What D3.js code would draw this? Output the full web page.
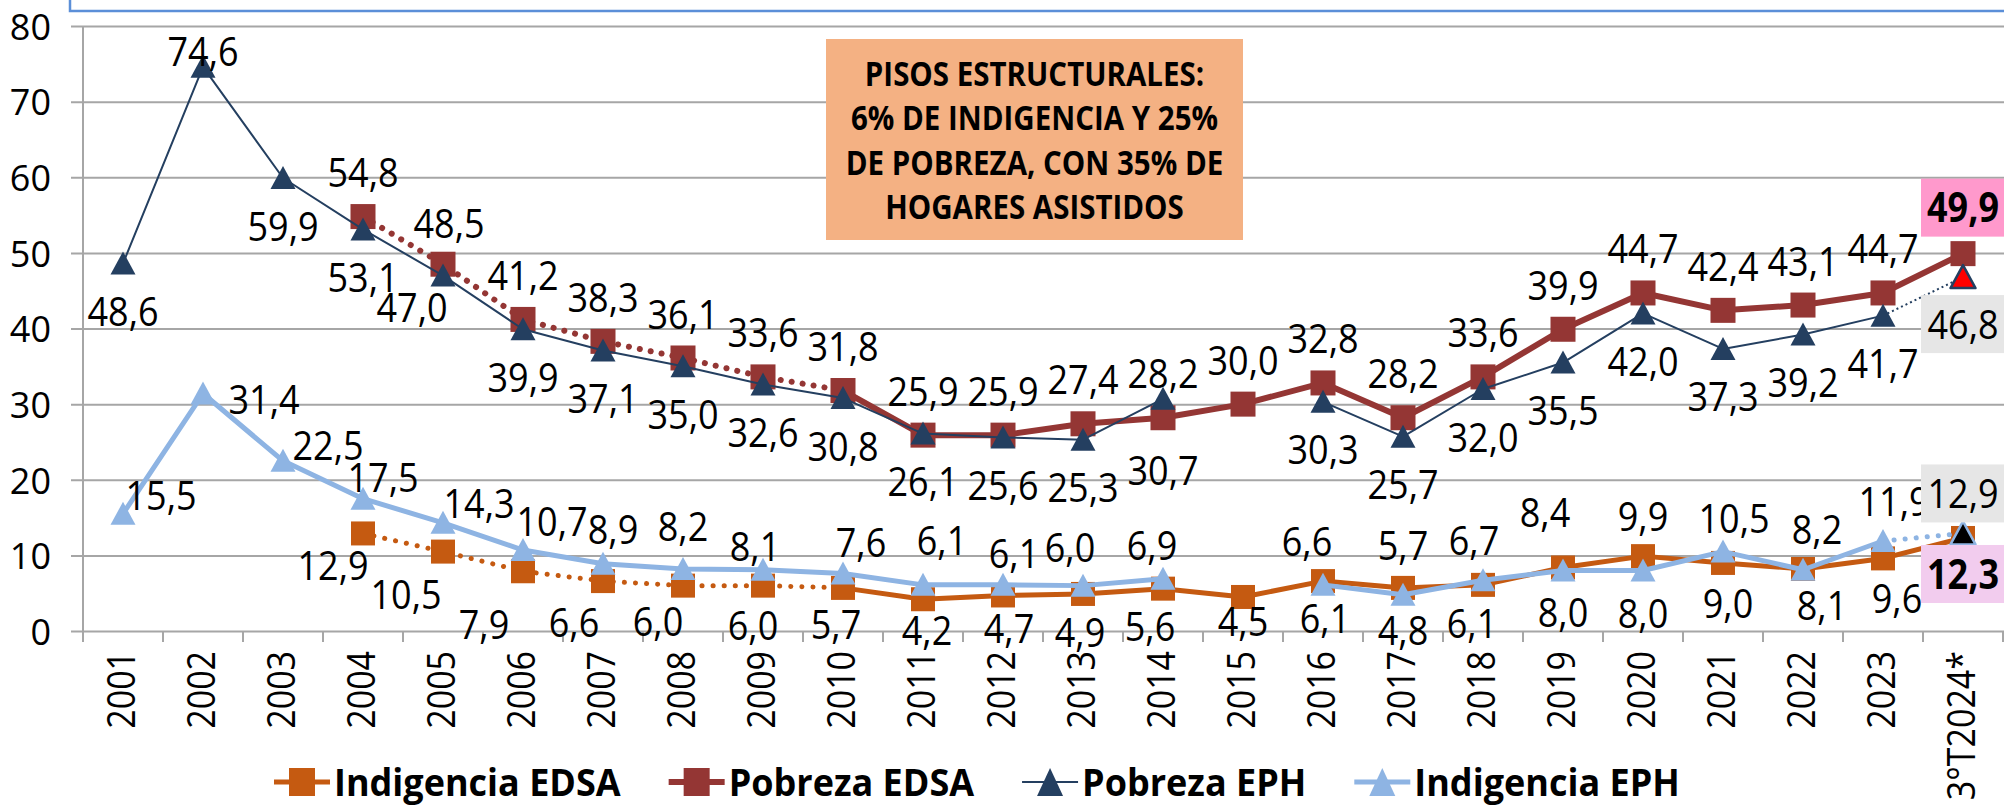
<!DOCTYPE html>
<html>
<head>
<meta charset="utf-8">
<script src="https://cdn.jsdelivr.net/npm/d3@7"></script>
<style>
body { margin: 0; background: #fff; }
svg text { font-family: "Open Sans", sans-serif; fill: #000; }
</style>
</head>
<body>
<svg id="chart" width="2004" height="808"></svg>
<script>
// ---- data ----
var categories = ["2001","2002","2003","2004","2005","2006","2007","2008","2009","2010","2011","2012",
                  "2013","2014","2015","2016","2017","2018","2019","2020","2021","2022","2023","3°T2024*"];
var indigenciaEDSA = [null,null,null,12.9,10.5,7.9,6.6,6.0,6.0,5.7,4.2,4.7,4.9,5.6,4.5,6.6,5.7,6.1,8.4,9.9,9.0,8.2,9.6,12.3];
var pobrezaEDSA    = [null,null,null,54.8,48.5,41.2,38.3,36.1,33.6,31.8,25.9,25.9,27.4,28.2,30.0,32.8,28.2,33.6,39.9,44.7,42.4,43.1,44.7,49.9];
var pobrezaEPH     = [48.6,74.6,59.9,53.1,47.0,39.9,37.1,35.0,32.6,30.8,26.1,25.6,25.3,30.7,null,30.3,25.7,32.0,35.5,42.0,37.3,39.2,41.7,46.8];
var indigenciaEPH  = [15.5,31.4,22.5,17.5,14.3,10.7,8.9,8.2,8.1,7.6,6.1,6.1,6.0,6.9,null,6.1,4.8,6.7,8.0,8.0,10.5,8.1,11.9,12.9];
var yTicks = [0,10,20,30,40,50,60,70,80];
var noteLines = ["PISOS ESTRUCTURALES:", "6% DE INDIGENCIA Y 25%", "DE POBREZA, CON 35% DE", "HOGARES ASISTIDOS"];

// ---- styles ----
var series = [
  {name: "Indigencia EDSA", values: indigenciaEDSA, color: "#C55A11", width: 5, marker: "square", size: 24,
   dotted: [3, 9], solid: [9, 23], dotW: 5, labelDy: 38},
  {name: "Pobreza EDSA", values: pobrezaEDSA, color: "#943634", width: 6, marker: "square", size: 25,
   dotted: [3, 9], solid: [9, 23], dotW: 6, labelDy: -44},
  {name: "Pobreza EPH", values: pobrezaEPH, color: "#243F60", width: 2, marker: "triangle", size: 25,
   dotted: [22, 23], solid: [0, 22], dotW: 2, dash: "2 3", labelDy: 48},
  {name: "Indigencia EPH", values: indigenciaEPH, color: "#8EB4E3", width: 5, marker: "triangle", size: 25,
   dotted: [22, 23], solid: [0, 22], dotW: 5, labelDy: -38}
];
// manual label nudges [dx, dy] (centre offset from the point), like the hand-placed Excel labels
var labelNudge = {
  "Indigencia EDSA": {3:[-30,32],4:[-37,43],5:[-39,53],6:[-29,41],7:[-25,36],8:[-10,40],9:[-7,37],10:[4,31],
    11:[6,33],12:[-3,39],13:[-13,38],14:[0,25],15:[-16,-40],16:[0,-42],17:[-11,39],18:[-18,-55],19:[0,-40],
    20:[5,41],21:[14,-40],22:[14,40],23:[0,36]},
  "Pobreza EDSA": {4:[6,-41],23:[0,-46]},
  "Pobreza EPH": {1:[0,-15],4:[-31,32],13:[0,72],23:[0,47]},
  "Indigencia EPH": {0:[38,-18],1:[61,6],2:[45,-15],3:[20,-21],4:[36,-19],5:[29,-29],6:[10,-34],7:[0,-43],
    8:[-8,-23],9:[18,-31],10:[19,-44],11:[11,-31],12:[-13,-38],13:[-11,-33],15:[2,34],16:[0,36],17:[-9,-40],
    18:[0,42],19:[0,43],20:[11,-33],21:[19,36],22:[11,-40],23:[0,-40]}
};
var labelBox = {
  "Pobreza EDSA": {23: {fill: "#FF99CC", bold: true}},
  "Pobreza EPH": {23: {fill: "#E6E6E6", bold: false}},
  "Indigencia EPH": {23: {fill: "#E6E6E6", bold: false}},
  "Indigencia EDSA": {23: {fill: "#F2CCEE", bold: true}}
};
var lastMarker = {"Pobreza EPH": {fill: "#FF0000", stroke: "#243F60"}, "Indigencia EPH": {fill: "#000000", stroke: "#8EB4E3"}};
var labelSize = 36, tall = 1.12;

var svg = d3.select("#chart");
var x = d3.scaleBand().domain(categories).range([83, 2003]);
var y = d3.scaleLinear().domain([0, 80]).range([631, 26]);
var cx = function(i) { return x(categories[i]) + x.bandwidth() / 2; };
var fmt = function(v) { return v.toFixed(1).replace(".", ","); };

// top border of the (cropped) title box
svg.append("path").attr("d", "M70,-4V11H2010").attr("fill", "none")
  .attr("stroke", "#5B8FD8").attr("stroke-width", 2.5);

// y axis with gridlines
var yAxis = svg.append("g").attr("transform", "translate(2004,0)")
  .call(d3.axisLeft(y).tickValues(yTicks).tickSize(1933).tickPadding(20));
yAxis.select(".domain").remove();
yAxis.selectAll(".tick line").attr("stroke", "#A6A6A6").attr("stroke-width", 2);
yAxis.selectAll(".tick text").style("font-size", "36px").attr("dy", "0.37em");

svg.append("line").attr("x1", 83).attr("x2", 83).attr("y1", 26).attr("y2", 642)
  .attr("stroke", "#A6A6A6").attr("stroke-width", 2);

// x axis
var xAxis = svg.append("g").attr("transform", "translate(0,631)")
  .call(d3.axisBottom(x).tickSize(0));
xAxis.select(".domain").remove();
xAxis.selectAll(".tick text")
  .attr("transform", "rotate(-90) scale(1," + tall + ")")
  .attr("text-anchor", "end")
  .attr("x", -20).attr("y", 0).attr("dy", "0.32em")
  .style("font-size", "34px");
svg.append("g").selectAll("line").data(d3.range(categories.length + 1)).enter().append("line")
  .attr("x1", function(i) { return 83 + i * x.bandwidth(); })
  .attr("x2", function(i) { return 83 + i * x.bandwidth(); })
  .attr("y1", 631).attr("y2", 642)
  .attr("stroke", "#A6A6A6").attr("stroke-width", 2);

// note box
svg.append("rect").attr("x", 826).attr("y", 39).attr("width", 417).attr("height", 201).attr("fill", "#F4B183");
svg.append("g").selectAll("text").data(noteLines).enter().append("text")
  .attr("transform", function(d, i) { return "translate(1034.5," + (74 + i * 44.5) + ") scale(1,1.12)"; })
  .attr("dy", "0.36em")
  .attr("text-anchor", "middle").style("font-size", "29.5px").style("font-weight", "bold")
  .text(function(d) { return d; });

// lines
var lineGen = d3.line()
  .defined(function(i) { return i != null; })
  .x(function(i) { return cx(i); });

series.forEach(function(s) {
  var g = svg.append("g");
  var idx = function(r) {
    return d3.range(r[0], r[1] + 1).map(function(i) { return s.values[i] == null ? null : i; });
  };
  lineGen.y(function(i) { return y(s.values[i]); });
  g.append("path").attr("d", lineGen(idx(s.dotted))).attr("fill", "none")
    .attr("stroke", s.color).attr("stroke-width", s.dotW)
    .attr("stroke-linecap", s.dash ? "butt" : "round")
    .attr("stroke-dasharray", s.dash || "0.1 11");
  g.append("path").attr("d", lineGen(idx(s.solid))).attr("fill", "none")
    .attr("stroke", s.color).attr("stroke-width", s.width).attr("stroke-linejoin", "round");

  var pts = d3.range(s.values.length).filter(function(i) { return s.values[i] != null; });
  var h = s.size / 2;
  if (s.marker === "square") {
    g.selectAll("rect").data(pts).enter().append("rect")
      .attr("x", function(i) { return cx(i) - h; })
      .attr("y", function(i) { return y(s.values[i]) - h; })
      .attr("width", s.size).attr("height", s.size).attr("fill", s.color);
  } else {
    g.selectAll("path.m").data(pts).enter().append("path").attr("class", "m")
      .attr("d", function(i) {
        var px = cx(i), py = y(s.values[i]);
        return "M" + px + "," + (py - 12) + "L" + (px + h) + "," + (py + 11) + "L" + (px - h) + "," + (py + 11) + "Z";
      })
      .attr("fill", function(i) {
        return (i === s.values.length - 1 && lastMarker[s.name]) ? lastMarker[s.name].fill : s.color;
      })
      .attr("stroke", function(i) {
        return (i === s.values.length - 1 && lastMarker[s.name]) ? lastMarker[s.name].stroke : "none";
      })
      .attr("stroke-width", 2.5).attr("stroke-linejoin", "round");
  }
});

// data labels
var labels = svg.append("g");
series.forEach(function(s) {
  s.values.forEach(function(v, i) {
    if (v == null) return;
    var n = (labelNudge[s.name] || {})[i] || [0, s.labelDy];
    var lx = cx(i) + n[0], ly = y(v) + n[1];
    var box = (labelBox[s.name] || {})[i];
    if (box) {
      labels.append("rect").attr("x", lx - 42).attr("y", ly - 29).attr("width", 84).attr("height", 58)
        .attr("fill", box.fill);
    }
    labels.append("text").attr("transform", "translate(" + lx + "," + ly + ") scale(1," + tall + ")")
      .attr("dy", "0.36em")
      .attr("text-anchor", "middle").style("font-size", labelSize + "px")
      .style("font-weight", box && box.bold ? "bold" : "normal")
      .text(fmt(v));
  });
});

// legend
var legend = svg.append("g");
var lx0 = 274, ly0 = 782;
series.forEach(function(s) {
  var g = legend.append("g").attr("transform", "translate(" + lx0 + "," + ly0 + ")");
  g.append("line").attr("x1", 0).attr("x2", 56).attr("stroke", s.color).attr("stroke-width", s.width);
  if (s.marker === "square") {
    g.append("rect").attr("x", 15).attr("y", -14).attr("width", 26).attr("height", 28).attr("fill", s.color);
  } else {
    g.append("path").attr("d", "M28,-14L41,14L15,14Z").attr("fill", s.color);
  }
  var t = g.append("text").attr("x", 60).attr("dy", "0.36em")
    .attr("transform", "scale(1,1.05)")
    .style("font-size", "36px").style("font-weight", "bold").text(s.name);
  lx0 += 60 + t.node().getComputedTextLength() + 48;
});
</script>
</body>
</html>
